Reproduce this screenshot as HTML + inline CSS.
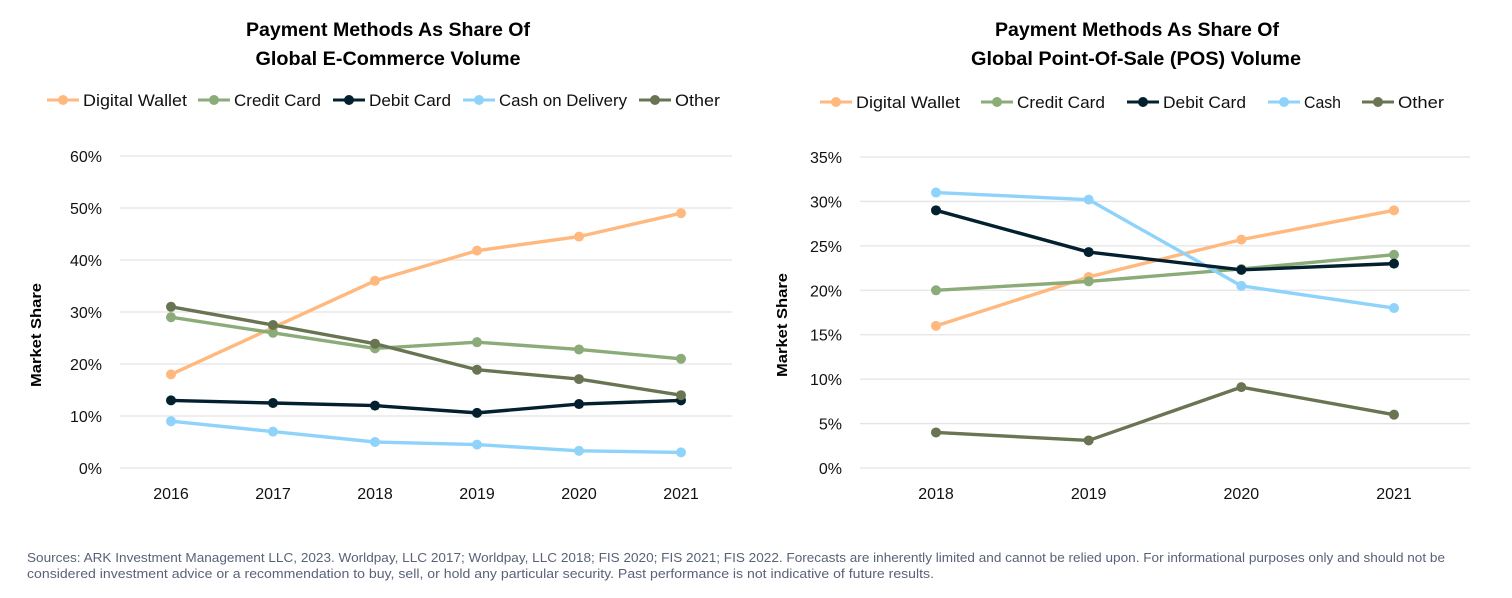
<!DOCTYPE html>
<html lang="en">
<head>
<meta charset="utf-8">
<title>Payment Methods As Share Of Volume</title>
<style>
html,body{margin:0;padding:0;background:#fff;width:1512px;height:598px;overflow:hidden}
svg{display:block;font-family:"Liberation Sans",sans-serif}
.title{font-size:19px;font-weight:bold;fill:#000;text-anchor:middle}
.leg{font-size:16.5px;fill:#111}
.tick{font-size:16px;fill:#111}
.axt{font-size:15px;font-weight:bold;fill:#000;text-anchor:middle}
.foot{font-size:13px;fill:#596278}
</style>
</head>
<body>
<svg id="root" width="1512" height="598" viewBox="0 0 1512 598" xmlns="http://www.w3.org/2000/svg">
  <g>
    <text class="title" x="388" y="36" textLength="284" lengthAdjust="spacingAndGlyphs">Payment Methods As Share Of</text>
    <text class="title" x="388" y="65" textLength="265" lengthAdjust="spacingAndGlyphs">Global E-Commerce Volume</text>
  </g>
  <g>
    <text class="title" x="1137" y="36" textLength="284" lengthAdjust="spacingAndGlyphs">Payment Methods As Share Of</text>
    <text class="title" x="1136" y="65" textLength="330" lengthAdjust="spacingAndGlyphs">Global Point-Of-Sale (POS) Volume</text>
  </g>

  <g>
    <g><line x1="47" x2="79" y1="100" y2="100" stroke="#FFB97F" stroke-width="3"/><circle cx="63" cy="100" r="5" fill="#FFB97F"/><text class="leg" x="83" y="106" textLength="104" lengthAdjust="spacingAndGlyphs">Digital Wallet</text></g>
    <g><line x1="198" x2="230" y1="100" y2="100" stroke="#8BAB78" stroke-width="3"/><circle cx="214" cy="100" r="5" fill="#8BAB78"/><text class="leg" x="234" y="106" textLength="87" lengthAdjust="spacingAndGlyphs">Credit Card</text></g>
    <g><line x1="333" x2="365" y1="100" y2="100" stroke="#03202F" stroke-width="3"/><circle cx="349" cy="100" r="5" fill="#03202F"/><text class="leg" x="369" y="106" textLength="82" lengthAdjust="spacingAndGlyphs">Debit Card</text></g>
    <g><line x1="463" x2="495" y1="100" y2="100" stroke="#8FD3FB" stroke-width="3"/><circle cx="479" cy="100" r="5" fill="#8FD3FB"/><text class="leg" x="499" y="106" textLength="128" lengthAdjust="spacingAndGlyphs">Cash on Delivery</text></g>
    <g><line x1="639" x2="671" y1="100" y2="100" stroke="#687452" stroke-width="3"/><circle cx="655" cy="100" r="5" fill="#687452"/><text class="leg" x="675" y="106" textLength="45" lengthAdjust="spacingAndGlyphs">Other</text></g>
  </g>

  <g>
    <g><line x1="820" x2="852" y1="102" y2="102" stroke="#FFB97F" stroke-width="3"/><circle cx="836" cy="102" r="5" fill="#FFB97F"/><text class="leg" x="856" y="108" textLength="104" lengthAdjust="spacingAndGlyphs">Digital Wallet</text></g>
    <g><line x1="981" x2="1013" y1="102" y2="102" stroke="#8BAB78" stroke-width="3"/><circle cx="997" cy="102" r="5" fill="#8BAB78"/><text class="leg" x="1017" y="108" textLength="88" lengthAdjust="spacingAndGlyphs">Credit Card</text></g>
    <g><line x1="1127" x2="1159" y1="102" y2="102" stroke="#03202F" stroke-width="3"/><circle cx="1143" cy="102" r="5" fill="#03202F"/><text class="leg" x="1163" y="108" textLength="83" lengthAdjust="spacingAndGlyphs">Debit Card</text></g>
    <g><line x1="1268" x2="1300" y1="102" y2="102" stroke="#8FD3FB" stroke-width="3"/><circle cx="1284" cy="102" r="5" fill="#8FD3FB"/><text class="leg" x="1304" y="108" textLength="37" lengthAdjust="spacingAndGlyphs">Cash</text></g>
    <g><line x1="1362" x2="1394" y1="102" y2="102" stroke="#687452" stroke-width="3"/><circle cx="1378" cy="102" r="5" fill="#687452"/><text class="leg" x="1398" y="108" textLength="46" lengthAdjust="spacingAndGlyphs">Other</text></g>
  </g>

  <text class="axt" transform="translate(41,335) rotate(-90)" textLength="104" lengthAdjust="spacingAndGlyphs">Market Share</text>
  <text class="axt" transform="translate(787,325) rotate(-90)" textLength="104" lengthAdjust="spacingAndGlyphs">Market Share</text>

  <g id="plotA"></g>
  <g id="plotB"></g>

  <g>
    <text class="foot" x="27" y="562" textLength="1418" lengthAdjust="spacingAndGlyphs">Sources: ARK Investment Management LLC, 2023. Worldpay, LLC  2017; Worldpay, LLC  2018; FIS 2020; FIS 2021; FIS 2022. Forecasts are inherently limited and cannot be relied upon. For informational purposes only and should not be</text>
    <text class="foot" x="27" y="578" textLength="907" lengthAdjust="spacingAndGlyphs">considered investment advice or a recommendation to buy, sell, or hold any particular security. Past performance is not indicative of future results.</text>
  </g>
</svg>
<script>
const ecomYears = ['2016','2017','2018','2019','2020','2021'];
const ecomTicks = [0,10,20,30,40,50,60];
const ecomDigitalWallet = [18,27,36,41.8,44.5,49];
const ecomCreditCard = [29,26,23,24.2,22.8,21];
const ecomDebitCard = [13,12.5,12,10.6,12.3,13];
const ecomCashOnDelivery = [9,7,5,4.5,3.3,3];
const ecomOther = [31,27.5,23.9,18.9,17.1,14];

const posYears = ['2018','2019','2020','2021'];
const posTicks = [0,5,10,15,20,25,30,35];
const posDigitalWallet = [16,21.5,25.7,29];
const posCreditCard = [20,21,22.4,24];
const posDebitCard = [29,24.3,22.3,23];
const posCash = [31,30.2,20.5,18];
const posOther = [4,3.1,9.1,6];

const SVGNS = 'http://www.w3.org/2000/svg';
const COLORS = {wallet:'#FFB97F',credit:'#8BAB78',debit:'#03202F',cash:'#8FD3FB',other:'#687452'};

function make(tag, attrs, parent){
  const el = document.createElementNS(SVGNS, tag);
  for(const k in attrs) el.setAttribute(k, attrs[k]);
  parent.appendChild(el);
  return el;
}

function drawPlot(g, box, years, ticks, series){
  const maxY = ticks[ticks.length-1];
  const yScale = v => box.y0 + (box.yTop - box.y0) * v / maxY;
  const xScale = i => box.xFirst + (box.xLast - box.xFirst) * i / (years.length - 1);

  ticks.forEach(t => {
    const line = make('line', {x1:box.left, x2:box.right, y1:yScale(t), y2:yScale(t), stroke:'#E4E4E6', 'stroke-width':1.3}, g);
    
    
    const label = make('text', {x:box.labelX, y:yScale(t)+6, 'text-anchor':'end', class:'tick'}, g);
    
    
    label.textContent = t + '%';
  });

  years.forEach((yr, i) => {
    const label = make('text', {x:xScale(i), y:499, 'text-anchor':'middle', class:'tick'}, g);
    
    
    label.textContent = yr;
  });

  series.forEach(s => {
    const grp = make('g', {}, g);
    
    
    const pts = s.values.map((v, i) => xScale(i) + ',' + yScale(v)).join(' ');
    const line = make('polyline', {points:pts, fill:'none', stroke:s.color, 'stroke-width':3.4, 'stroke-linejoin':'round'}, grp);
    
    
    s.values.forEach((v, i) => {
      const dot = make('circle', {cx:xScale(i), cy:yScale(v), r:5, fill:s.color}, grp);
      
      
    });
  });
}

drawPlot(document.getElementById('plotA'),
  {left:120, right:732, y0:468, yTop:156, xFirst:171, xLast:681, labelX:102},
  ecomYears, ecomTicks, [
    {name:'digital-wallet', color:COLORS.wallet, values:ecomDigitalWallet},
    {name:'credit-card', color:COLORS.credit, values:ecomCreditCard},
    {name:'debit-card', color:COLORS.debit, values:ecomDebitCard},
    {name:'cash-on-delivery', color:COLORS.cash, values:ecomCashOnDelivery},
    {name:'other', color:COLORS.other, values:ecomOther}
  ]);

drawPlot(document.getElementById('plotB'),
  {left:860, right:1470, y0:468, yTop:157, xFirst:936, xLast:1394, labelX:842},
  posYears, posTicks, [
    {name:'digital-wallet', color:COLORS.wallet, values:posDigitalWallet},
    {name:'credit-card', color:COLORS.credit, values:posCreditCard},
    {name:'cash', color:COLORS.cash, values:posCash},
    {name:'debit-card', color:COLORS.debit, values:posDebitCard},
    {name:'other', color:COLORS.other, values:posOther}
  ]);
</script>
</body>
</html>
